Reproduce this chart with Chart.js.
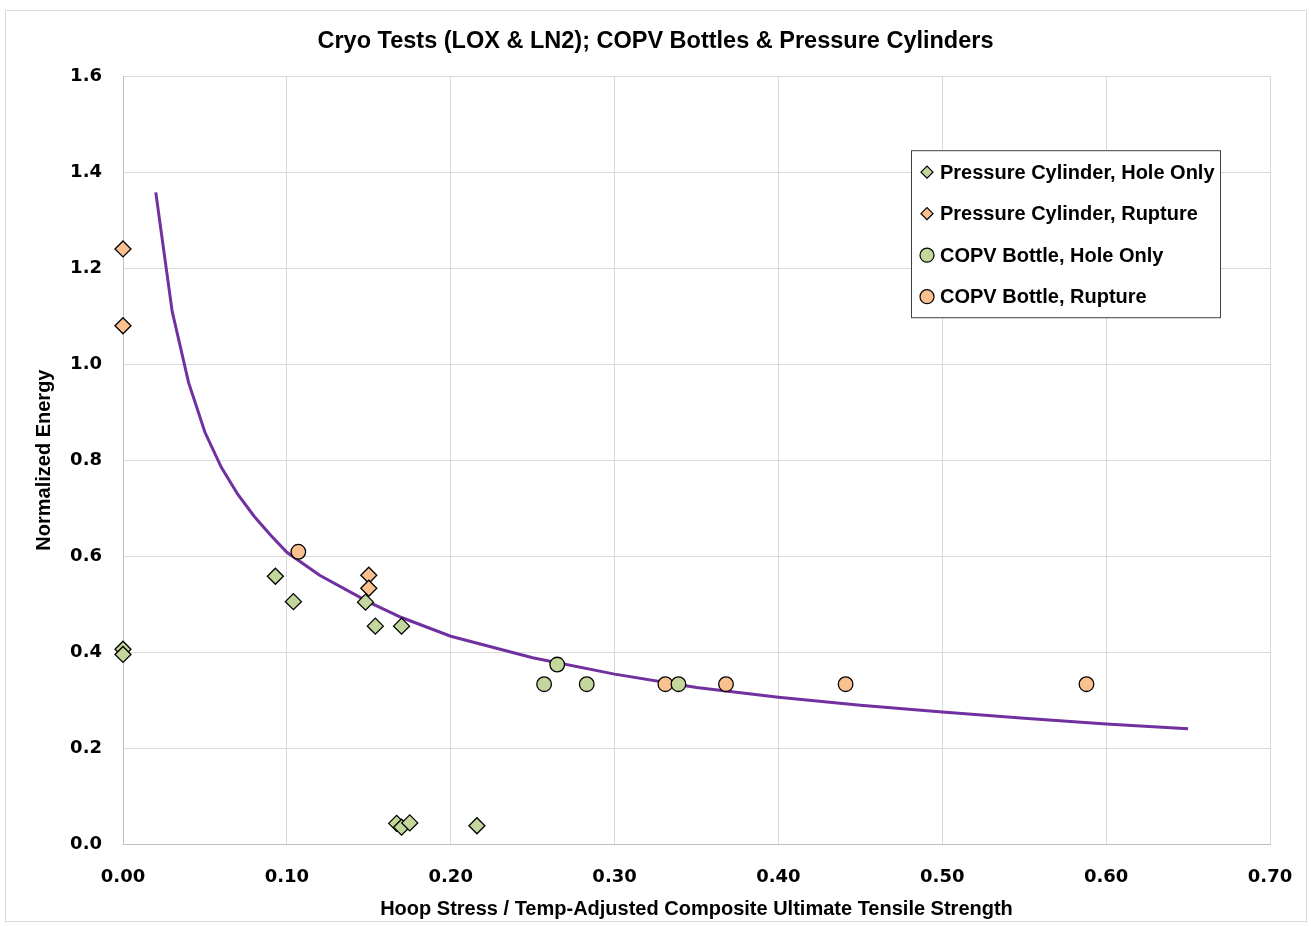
<!DOCTYPE html>
<html lang="en">
<head>
<meta charset="UTF-8">
<title>Cryo Tests</title>
<script src="https://cdn.jsdelivr.net/npm/chart.js"></script>
<style>
    html, body { margin: 0; padding: 0; background: #fff; }
    #wrap { width: 1311px; height: 926px; position: relative; }
</style>
</head>
<body>
<div id="wrap"><canvas id="myChart"></canvas></div>
<script>
    // values
    const curveX = [0.02, 0.03, 0.04, 0.05, 0.06, 0.07, 0.08, 0.09, 0.10, 0.12, 0.15, 0.17, 0.20, 0.25, 0.30, 0.35, 0.40, 0.45, 0.50, 0.55, 0.60, 0.65];
    const curveY = [1.358, 1.110, 0.962, 0.858, 0.785, 0.729, 0.683, 0.644, 0.608, 0.560, 0.504, 0.472, 0.433, 0.388, 0.354, 0.326, 0.306, 0.289, 0.275, 0.262, 0.250, 0.240];

    const cylHoleX = [0.000, 0.000, 0.093, 0.104, 0.148, 0.154, 0.170, 0.167, 0.170, 0.175, 0.216];
    const cylHoleY = [0.406, 0.395, 0.558, 0.505, 0.504, 0.454, 0.454, 0.043, 0.035, 0.044, 0.038];

    const cylRuptX = [0.000, 0.000, 0.150, 0.150];
    const cylRuptY = [1.240, 1.080, 0.560, 0.533];

    const copvHoleX = [0.257, 0.265, 0.283, 0.339];
    const copvHoleY = [0.333, 0.374, 0.333, 0.333];

    const copvRuptX = [0.107, 0.331, 0.368, 0.441, 0.588];
    const copvRuptY = [0.609, 0.333, 0.333, 0.333, 0.333];

    const xTicks = [0, 0.1, 0.2, 0.3, 0.4, 0.5, 0.6, 0.7];
    const yTicks = [0, 0.2, 0.4, 0.6, 0.8, 1.0, 1.2, 1.4, 1.6];

    const green = '#c3d69b';
    const orange = '#fac090';
    const purple = '#7030a0';

    const toPts = (xs, ys) => xs.map((x, i) => ({ x: x, y: ys[i] }));

    const tickFont = { family: 'DejaVu Sans', size: 18, weight: 'bold' };
    const titleFont = { family: 'Liberation Sans', size: 20, weight: 'bold' };

    // white background + outer frame
    const frame = {
        id: 'frame',
        beforeDraw(chart) {
            const ctx = chart.ctx;
            ctx.save();
            ctx.fillStyle = '#fff';
            ctx.fillRect(0, 0, chart.width, chart.height);
            ctx.strokeStyle = '#d9d9d9';
            ctx.lineWidth = 1;
            ctx.strokeRect(5.5, 10.5, 1301, 911);
            ctx.restore();
        }
    };

    // legend box inside the plot area, top right
    const boxLegend = {
        id: 'boxLegend',
        afterDraw(chart) {
            const ctx = chart.ctx;
            const a = chart.chartArea;
            const left = a.right - 359, top = a.top + 74, w = 309, h = 167;
            ctx.save();
            ctx.fillStyle = '#fff';
            ctx.fillRect(left, top, w, h);
            ctx.strokeStyle = '#404040';
            ctx.lineWidth = 1;
            ctx.strokeRect(left + 0.5, top + 0.5, w, h);
            ctx.font = 'bold 20px "Liberation Sans"';
            ctx.textBaseline = 'middle';
            chart.data.datasets.forEach(ds => {
                if (!ds.inLegend) return;
                const cy = top + 22 + (ds.inLegend - 1) * 41.5;
                const cx = left + 16;
                ctx.fillStyle = ds.backgroundColor;
                ctx.strokeStyle = '#000';
                ctx.lineWidth = 1.2;
                ctx.beginPath();
                if (ds.pointStyle === 'rectRot') {
                    const r = 6;
                    ctx.moveTo(cx - r, cy);
                    ctx.lineTo(cx, cy - r);
                    ctx.lineTo(cx + r, cy);
                    ctx.lineTo(cx, cy + r);
                    ctx.closePath();
                } else {
                    ctx.arc(cx, cy, 7, 0, Math.PI * 2);
                }
                ctx.fill();
                ctx.stroke();
                ctx.fillStyle = '#000';
                ctx.fillText(ds.label, left + 29, cy + 1);
            });
            ctx.restore();
        }
    };

    const pointSet = (label, xs, ys, style, r, color, n) => ({
        label: label,
        data: toPts(xs, ys),
        pointStyle: style,
        pointRadius: r,
        backgroundColor: color,
        borderColor: '#000',
        borderWidth: 1.3,
        clip: false,
        inLegend: n,
        order: n
    });

    const ctx = document.getElementById('myChart').getContext('2d');
    const chart = new Chart(ctx, {
        type: 'scatter',
        data: {
            datasets: [
                {
                    type: 'line',
                    label: 'Fit',
                    data: toPts(curveX, curveY),
                    borderColor: purple,
                    borderWidth: 3,
                    pointRadius: 0,
                    tension: 0,
                    fill: false,
                    order: 10
                },
                pointSet('Pressure Cylinder, Hole Only', cylHoleX, cylHoleY, 'rectRot', 8, green, 1),
                pointSet('Pressure Cylinder, Rupture', cylRuptX, cylRuptY, 'rectRot', 8, orange, 2),
                pointSet('COPV Bottle, Hole Only', copvHoleX, copvHoleY, 'circle', 7.3, green, 3),
                pointSet('COPV Bottle, Rupture', copvRuptX, copvRuptY, 'circle', 7.3, orange, 4)
            ]
        },
        options: {
            responsive: true,
            maintainAspectRatio: false,
            animation: false,
            layout: { padding: 0 },
            scales: {
                x: {
                    type: 'linear',
                    min: 0, max: 0.7,
                    afterBuildTicks: s => { s.ticks = xTicks.map(v => ({ value: v })); },
                    afterFit: s => { s.height = 82; s.paddingRight = 0; s.paddingLeft = 0; },
                    ticks: {
                        font: tickFont,
                        color: '#000',
                        padding: 23,
                        callback: v => v.toFixed(2)
                    },
                    grid: { color: '#d9d9d9', drawTicks: false },
                    border: { color: '#bfbfbf' },
                    title: {
                        display: true,
                        text: 'Hoop Stress / Temp-Adjusted Composite Ultimate Tensile Strength',
                        font: titleFont,
                        color: '#000',
                        padding: { top: 0, bottom: 5 }
                    }
                },
                y: {
                    type: 'linear',
                    min: 0, max: 1.6,
                    afterBuildTicks: s => { s.ticks = yTicks.map(v => ({ value: v })); },
                    afterFit: s => { s.width = 123; },
                    ticks: {
                        font: tickFont,
                        color: '#000',
                        padding: 21,
                        callback: v => v.toFixed(1)
                    },
                    grid: { color: '#d9d9d9', drawTicks: false },
                    border: { color: '#bfbfbf' },
                    title: {
                        display: true,
                        text: 'Normalized Energy',
                        font: titleFont,
                        color: '#000',
                        padding: { top: 32, bottom: 0 }
                    }
                },
                // empty right-hand spacer so the title stays centred on the page
                spacer: {
                    type: 'linear',
                    position: 'right',
                    min: 0, max: 1.6,
                    afterFit: s => { s.width = 41; },
                    ticks: { display: false },
                    grid: { display: false, drawTicks: false },
                    border: { display: false }
                }
            },
            plugins: {
                legend: { display: false },
                tooltip: { enabled: false },
                title: {
                    display: true,
                    text: 'Cryo Tests (LOX & LN2); COPV Bottles & Pressure Cylinders',
                    font: { family: 'Liberation Sans', size: 23.5, weight: 'bold' },
                    color: '#000',
                    padding: { top: 27, bottom: 21 }
                }
            }
        },
        plugins: [frame, boxLegend]
    });
</script>
</body>
</html>
